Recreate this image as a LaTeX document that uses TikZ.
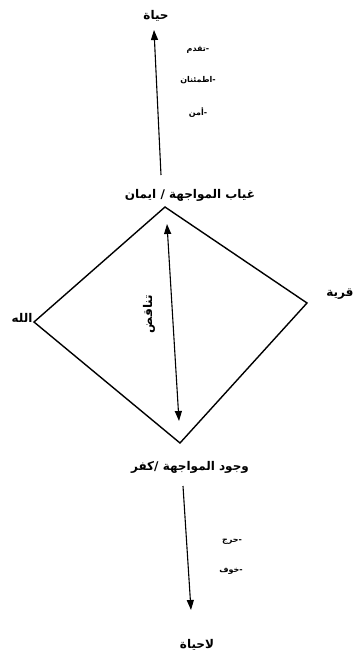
\documentclass[tikz,border=0pt]{standalone}
\usepackage{fontspec}
\usetikzlibrary{arrows.meta}
\TeXXeTstate=1
\newfontfamily\arabicfont[Script=Arabic]{DejaVu Sans}
\begin{document}
\begin{tikzpicture}[x=1pt,y=-1pt,
  lbl/.style={font=\arabicfont\bfseries\fontsize{12}{14}\selectfont, inner sep=0pt},
  small/.style={font=\arabicfont\bfseries\fontsize{8}{10}\selectfont, inner sep=0pt},
  arr/.style={line width=1.1pt, -{Triangle[length=10pt,width=7pt]}},
  darr/.style={line width=1.1pt, {Triangle[length=10pt,width=7pt]}-{Triangle[length=10pt,width=7pt]}},
  edge/.style={line width=1.4pt}]
\useasboundingbox (0,0) rectangle (357,665);
\fill[white] (0,0) rectangle (357,665);
% labels
\node[lbl] (hayat) at (156,16) {\beginR حياة\endR};
\node[small] (t1) at (198,50) {\beginR -تقدم\endR};
\node[small] (t2) at (198,80) {\beginR -اطمئنان\endR};
\node[small] (t3) at (198,112) {\beginR -أمن\endR};
\node[lbl] (top) at (190,195) {\beginR غياب المواجهة / ايمان\endR};
\node[lbl] (allah) at (22,318) {\beginR الله\endR};
\node[lbl] (qarya) at (340,294) {\beginR قرية\endR};
\node[lbl, rotate=90] (tanaqud) at (149,314) {\beginR تناقض\endR};
\node[lbl] (bot) at (190,467) {\beginR وجود المواجهة /كفر\endR};
\node[small] (b1) at (232,542) {\beginR -حرج\endR};
\node[small] (b2) at (231,571) {\beginR -خوف\endR};
\node[lbl] (lahayat) at (197,645) {\beginR لاحياة\endR};
% diamond
\coordinate (N) at (165,207);
\coordinate (W) at (34,322);
\coordinate (E) at (307,303);
\coordinate (S) at (180,443);
\draw[edge, line join=miter] (N) -- (E) -- (S) -- (W) -- cycle;
% arrows
\coordinate (upstart) at (161,175);
\coordinate (uptip) at (154,30);
\draw[arr] (upstart) -- (uptip);
\coordinate (dtop) at (167,224);
\coordinate (dbot) at (179,421);
\draw[darr] (dtop) -- (dbot);
\coordinate (downstart) at (183,486);
\coordinate (downtip) at (191,610);
\draw[arr] (downstart) -- (downtip);
\end{tikzpicture}
\end{document}
